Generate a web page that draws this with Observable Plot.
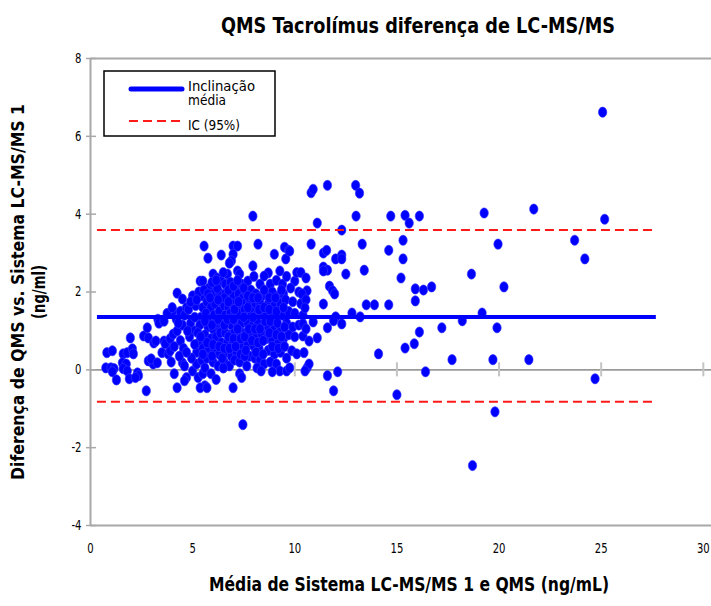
<!DOCTYPE html>
<html>
<head>
<meta charset="utf-8">
<script src="https://cdn.jsdelivr.net/npm/d3@7"></script>
<script src="https://cdn.jsdelivr.net/npm/@observablehq/plot@0.6"></script>
<style>
  html, body { margin: 0; padding: 0; background: #fff; }
  #chart svg { display: block; }
</style>
</head>
<body>
<div id="chart"></div>
<script>
const FONT = "'DejaVu Sans', 'Liberation Sans', sans-serif";

const titleText = "QMS Tacrolímus diferença de LC-MS/MS";
const xLabelText = "Média de Sistema LC-MS/MS 1 e QMS (ng/mL)";
const yLabelLine1 = "Diferença de QMS vs. Sistema LC-MS/MS 1";
const yLabelLine2 = "(ng/ml)";
const legendLabels = ["Inclinação", "média", "IC (95%)"];

const xTicks = [0, 5, 10, 15, 20, 25, 30];
const yTicks = [-4, -2, 0, 2, 4, 6, 8];

const meanDiff = 1.36;
const ciLimits = [3.59, -0.82];
const lineExtent = [0.34, 27.7];

// [mean of methods, difference]
const pointsLow = [
  [0.8,0.44],[0.75,0.05],[1.0,0.05],[1.15,0.03],[1.07,-0.05],[1.27,-0.26],[1.07,0.49],
  [1.6,0.41],[1.8,0.44],[2.05,0.54],[2.1,0.41],[1.56,0.18],[1.75,0.15],[1.6,0.03],
  [1.8,-0.03],[1.9,-0.23],[1.95,0.82],[2.3,-0.08],[2.35,-0.15],[2.2,-0.2],[2.6,0.87],
  [2.78,1.08],[2.83,0.82],[2.73,-0.54],[2.83,0.23],[3.07,0.15],[2.97,0.28],[3.27,0.18],
  [3.1,0.69],[3.2,0.74],[3.3,1.3],[3.35,1.2],[3.6,0.74],[3.8,0.67]
];

const pointsBand3 = [
  [3.5,0.44],[3.8,0.41],[3.9,0.49],[3.66,0.67],[3.9,0.8],[4.05,0.92],[4.24,1.0],
  [4.05,1.51],[3.75,1.45],[4.2,1.3],[3.6,1.25],[4.5,0.18],[4.6,0.1],[4.7,-0.2],
  [4.6,-0.28],[4.24,-0.46],[4.24,1.97],[4.5,1.82],[4.4,1.5],[4.6,1.4],[4.0,1.6],
  [4.4,0.75],[4.55,0.55],[4.35,0.35],[3.95,0.2],[4.1,-0.1],[4.5,1.15],[4.7,1.6]
];

const pointsBand5 = [
  [5.0,-0.03],[5.2,0.15],[5.0,1.9],[4.8,1.55],[4.9,1.2],[5.1,1.0],[4.85,0.85],
  [5.3,0.7],[5.2,0.45],[4.95,0.3],[5.37,2.28],[5.15,1.65],[5.4,1.35],[5.45,1.9],
  [5.27,-0.2],[5.5,-0.1],[5.6,-0.41],[5.37,-0.46],[5.7,-0.46],[5.5,2.28],[5.35,1.15],
  [5.5,0.55],[5.45,0.25],[5.6,0.05],[5.3,2.0],[5.5,1.6],[5.1,1.35],[5.25,0.95]
];

const pointsBand6 = [
  [5.56,3.18],[5.75,2.87],[6.0,2.46],[6.2,2.36],[6.4,2.28],[5.8,2.1],[6.0,1.95],
  [6.3,2.0],[5.7,1.75],[5.9,1.6],[6.1,1.7],[6.4,1.75],[5.65,1.45],[5.85,1.3],
  [6.05,1.4],[6.3,1.5],[6.5,1.3],[5.75,1.1],[6.0,1.05],[6.2,1.15],[6.45,1.0],
  [5.6,0.9],[5.9,0.8],[6.15,0.85],[6.4,0.7],[5.8,0.55],[6.05,0.5],[6.3,0.4],
  [5.7,0.3],[6.0,0.2],[6.25,0.1],[6.5,0.05],[5.9,-0.1],[6.15,-0.25],[6.4,2.95],
  [6.1,1.2],[5.95,0.35],[6.2,2.1],[6.35,0.95]
];

const pointsBand7 = [
  [6.98,3.18],[7.2,3.18],[6.98,2.97],[6.9,2.8],[6.8,2.74],[6.7,2.46],[7.2,2.54],
  [7.3,2.46],[6.6,2.2],[6.85,2.25],[7.1,2.1],[7.4,2.2],[6.6,1.95],[6.8,1.85],
  [7.0,1.9],[7.25,1.95],[7.45,1.85],[6.55,1.65],[6.75,1.6],[6.95,1.7],[7.15,1.6],
  [7.35,1.65],[6.6,1.4],[6.85,1.45],[7.05,1.4],[7.3,1.45],[6.7,1.2],[6.9,1.15],
  [7.1,1.25],[7.4,1.2],[6.6,0.95],[6.85,0.9],[7.05,0.95],[7.3,1.0],[6.7,0.7],
  [6.95,0.65],[7.2,0.75],[7.45,0.6],[6.65,0.45],[6.9,0.35],[7.15,0.45],[6.55,0.2],
  [6.8,0.1],[7.05,0.25],[7.3,-0.1],[7.4,-0.2],[6.98,-0.46],[7.46,-1.41],[6.5,0.05],
  [7.3,0.2]
];

const pointsBand8 = [
  [7.95,3.95],[8.2,3.23],[7.95,2.67],[7.7,2.28],[8.0,2.4],[8.3,2.2],[7.6,2.0],
  [7.85,2.05],[8.1,1.95],[8.4,1.9],[7.55,1.7],[7.8,1.75],[8.05,1.65],[8.3,1.7],
  [7.6,1.45],[7.85,1.5],[8.1,1.4],[8.4,1.45],[7.7,1.2],[7.95,1.15],[8.2,1.2],
  [8.45,1.1],[7.6,0.95],[7.85,0.9],[8.1,0.85],[8.35,0.95],[7.7,0.65],[8.0,0.6],
  [8.25,0.55],[7.8,0.35],[8.05,0.3],[8.3,0.25],[8.5,0.15],[8.15,0.05],[8.35,-0.03],
  [7.65,0.1]
];

const pointsBand9 = [
  [9.0,2.97],[8.7,2.49],[8.5,2.41],[9.27,2.54],[8.8,2.2],[9.1,2.3],[9.4,2.2],
  [8.6,1.95],[8.9,2.0],[9.2,1.9],[9.45,1.95],[8.7,1.7],[9.0,1.65],[9.3,1.7],
  [8.6,1.4],[8.85,1.45],[9.15,1.35],[9.4,1.4],[8.7,1.1],[9.0,1.05],[9.3,1.0],
  [8.6,0.8],[8.9,0.75],[9.2,0.7],[9.45,0.8],[8.7,0.5],[9.0,0.4],[9.3,0.45],
  [8.8,0.2],[9.1,0.15],[9.27,-0.03],[8.9,-0.05],[9.6,-0.03]
];

const pointsBand10 = [
  [9.5,3.15],[9.7,3.07],[9.56,2.85],[9.75,3.05],[10.0,2.28],[10.1,2.5],[9.6,2.4],
  [9.8,2.1],[10.2,2.0],[9.55,1.8],[9.9,1.75],[10.3,1.7],[9.7,1.5],[10.0,1.45],
  [10.4,1.4],[9.6,1.2],[9.9,1.1],[10.2,1.15],[10.4,1.18],[9.7,0.9],[10.0,0.85],
  [10.4,0.87],[10.7,0.74],[9.85,0.49],[10.1,0.41],[9.6,0.3],[9.75,0.05],[10.6,0.05],
  [10.7,0.15],[10.5,-0.03],[10.6,2.03],[10.3,2.5],[10.55,2.36],[10.35,1.95],
  [10.55,1.8],[10.5,1.59],[10.55,1.05],[10.45,0.44]
];

const pointsCoreExtra = [
  [5.55,2.05],[5.75,1.95],[5.95,2.25],[6.15,2.3],[6.5,2.5],[6.55,1.85],[6.25,1.8],
  [5.85,1.85],[5.6,1.25],[5.95,1.15],[6.25,1.3],[6.55,1.15],[5.7,0.7],[6.0,0.65],
  [6.3,0.6],[6.55,0.55],[5.5,0.4],[6.45,0.3],[6.75,2.05],[7.0,2.15],[7.2,2.3],
  [7.5,2.1],[6.75,1.75],[7.05,1.55],[7.25,1.75],[7.55,1.55],[6.7,1.3],[7.0,1.3],
  [7.2,1.05],[7.5,1.35],[6.75,0.85],[7.0,0.8],[7.35,0.8],[7.55,0.85],[6.8,0.55],
  [7.1,0.6],[7.35,0.4],[7.55,0.35],[7.7,1.9],[7.95,1.85],[8.2,1.85],[8.5,2.05],
  [7.7,1.6],[7.95,1.35],[8.25,1.55],[8.5,1.6],[7.75,1.05],[8.05,1.05],[8.3,1.05],
  [8.55,1.25],[7.9,0.75],[8.2,0.7],[8.45,0.75],[7.6,0.5],[8.1,0.45],[8.45,0.4],
  [8.75,1.85],[9.05,1.85],[9.35,2.05],[8.75,1.55],[9.1,1.5],[9.45,1.6],[8.8,1.25],
  [9.15,1.2],[9.5,1.1],[8.75,0.95],[9.1,0.9],[9.35,0.85],[8.9,0.6],[9.2,0.55],
  [9.5,0.6],[4.9,1.75],[5.2,1.8],[4.75,1.0],[5.1,0.65],[4.7,0.45],[5.4,0.85],
  [4.3,1.2],[4.1,0.6]
];

const pointsHigh = [
  [10.8,4.55],[10.9,4.64],[11.6,4.74],[12.98,4.74],[13.17,4.54],[13.0,3.95],[11.1,3.77],
  [12.3,3.59],[14.7,3.95],[15.4,3.97],[15.6,3.77],[16.1,3.95],[15.3,3.33],[10.8,3.23],
  [13.3,3.23],[14.6,3.07],[15.3,2.85],[11.4,3.0],[11.56,3.07],[12.0,2.85],[12.3,2.95],
  [12.3,2.85],[11.4,2.64],[11.6,2.56],[11.4,2.54],[12.5,2.46],[13.4,2.56],[15.2,2.36],
  [15.9,2.08],[16.3,2.05],[16.7,2.13],[15.9,1.77],[11.7,2.15],[11.85,2.03],[11.95,1.95],
  [11.4,1.69],[13.5,1.67],[13.9,1.67],[14.6,1.67],[12.8,1.46],[13.2,1.36],[12.0,1.36],
  [12.3,1.18],[11.9,1.26],[11.6,1.08],[10.9,1.23],[11.1,0.82],[16.1,0.97],[17.2,1.08],
  [15.85,0.67],[15.4,0.56],[14.1,0.41],[17.7,0.26],[16.4,-0.05],[15.0,-0.64],
  [11.9,-0.54],[11.6,-0.15],[12.1,-0.05]
];

const pointsRight = [
  [25.07,6.62],[19.27,4.03],[21.7,4.13],[25.17,3.87],[19.95,3.23],[23.7,3.33],
  [24.2,2.85],[18.65,2.46],[20.24,2.13],[19.17,1.46],[18.2,1.26],[19.9,1.08],
  [19.7,0.26],[21.46,0.26],[24.7,-0.23],[19.8,-1.08],[18.7,-2.46]
];

const allPoints = [
  ...pointsLow, ...pointsBand3, ...pointsBand5, ...pointsBand6, ...pointsBand7,
  ...pointsBand8, ...pointsBand9, ...pointsBand10, ...pointsCoreExtra,
  ...pointsHigh, ...pointsRight
].map(([m, d]) => ({mean: m, diff: d}));

// slightly tall ellipse marker
const ellipseSymbol = {
  draw(ctx) {
    const rx = 4.2, ry = 5.1, k = 0.5523;
    ctx.moveTo(rx, 0);
    ctx.bezierCurveTo(rx, ry * k, rx * k, ry, 0, ry);
    ctx.bezierCurveTo(-rx * k, ry, -rx, ry * k, -rx, 0);
    ctx.bezierCurveTo(-rx, -ry * k, -rx * k, -ry, 0, -ry);
    ctx.bezierCurveTo(rx * k, -ry, rx, -ry * k, rx, 0);
    ctx.closePath();
  }
};

const GRAY = "#a8a8a8";

const chart = Plot.plot({
  width: 711,
  height: 606,
  marginTop: 58,
  marginBottom: 81,
  marginLeft: 90,
  marginRight: 0,
  style: {fontFamily: FONT, background: "#fff", color: "#000"},
  x: {domain: [0, 30.4]},
  y: {domain: [-4, 8]},
  marks: [
    Plot.ruleY([yTicks[yTicks.length - 1]], {stroke: GRAY, strokeWidth: 2}),
    Plot.ruleY([yTicks[0]], {stroke: GRAY, strokeWidth: 2}),
    Plot.ruleX([xTicks[0]], {stroke: GRAY, strokeWidth: 2}),
    Plot.ruleY([0], {stroke: "#9a9a9a", strokeWidth: 1.6}),
    Plot.ruleY(yTicks, {x1: 0, x2: 0, insetLeft: -4, insetRight: -6, stroke: GRAY, strokeWidth: 1.5}),
    Plot.ruleX(xTicks.slice(1), {y1: 0, y2: 0, insetTop: -7, insetBottom: -7, stroke: "#c4c4c4", strokeWidth: 2}),
    Plot.axisX(xTicks, {tickSize: 0, tickPadding: 18, fontSize: 14, label: null, tickFormat: d => String(d)}),
    Plot.axisY(yTicks, {tickSize: 0, tickPadding: 9, fontSize: 14, label: null, tickFormat: d => String(d)}),
    Plot.dot(allPoints, {x: "mean", y: "diff", symbol: ellipseSymbol, fill: "#0000ff", stroke: "#3c3cff", strokeWidth: 0.6}),
    Plot.ruleY([meanDiff], {x1: lineExtent[0], x2: lineExtent[1], stroke: "#0000ff", strokeWidth: 4}),
    Plot.ruleY(ciLimits, {x1: lineExtent[0], x2: lineExtent[1], stroke: "#ff1a1a", strokeWidth: 2, strokeDasharray: "9,5"}),
    Plot.text([titleText], {text: d => d, frameAnchor: "top", textAnchor: "middle", dx: 17, dy: -40, fontSize: 21, fontWeight: "bold"}),
    Plot.text([xLabelText], {text: d => d, frameAnchor: "bottom", textAnchor: "middle", dx: 8, dy: 65, fontSize: 19, fontWeight: "bold"}),
    Plot.text([yLabelLine1], {text: d => d, frameAnchor: "left", textAnchor: "middle", dx: -72, rotate: -90, fontSize: 18, fontWeight: "bold"}),
    Plot.text([yLabelLine2], {text: d => d, frameAnchor: "left", textAnchor: "middle", dx: -51, rotate: -90, fontSize: 18, fontWeight: "bold"})
  ]
});

document.getElementById("chart").appendChild(chart);

const svg = d3.select(chart);

function fitTo(node, width) {
  node.setAttribute("textLength", width);
  node.setAttribute("lengthAdjust", "spacingAndGlyphs");
}
// emulate a condensed face by fitting each text to the reference width
const tickSet = new Set([...xTicks, ...yTicks].map(String));
svg.selectAll("text").each(function () {
  const t = this.textContent;
  if (t === titleText) fitTo(this, 394);
  else if (t === xLabelText) fitTo(this, 400);
  else if (t === yLabelLine1) fitTo(this, 376);
  else if (t === yLabelLine2) fitTo(this, 54);
  else if (tickSet.has(t)) fitTo(this, (this.getComputedTextLength() * 0.72).toFixed(1));
});

// legend box (decoration)
const lg = svg.append("g").attr("font-family", FONT).attr("text-anchor", "start");
lg.append("rect").attr("x", 104).attr("y", 71).attr("width", 171).attr("height", 65)
  .attr("fill", "#fff").attr("stroke", "#000").attr("stroke-width", 1.5);
lg.append("line").attr("x1", 131).attr("x2", 182).attr("y1", 89).attr("y2", 89)
  .attr("stroke", "#0000ff").attr("stroke-width", 5).attr("stroke-linecap", "round");
lg.append("line").attr("x1", 129).attr("x2", 181).attr("y1", 121).attr("y2", 121)
  .attr("stroke", "#ff1a1a").attr("stroke-width", 2).attr("stroke-dasharray", "9,5");
const legendWidths = [67, 38, 52];
const legendY = [91, 105, 130];
legendLabels.forEach((s, i) => {
  const t = lg.append("text").attr("x", 188).attr("y", legendY[i]).attr("font-size", 14)
    .attr("text-anchor", "start").text(s);
  fitTo(t.node(), legendWidths[i]);
});
</script>
</body>
</html>
